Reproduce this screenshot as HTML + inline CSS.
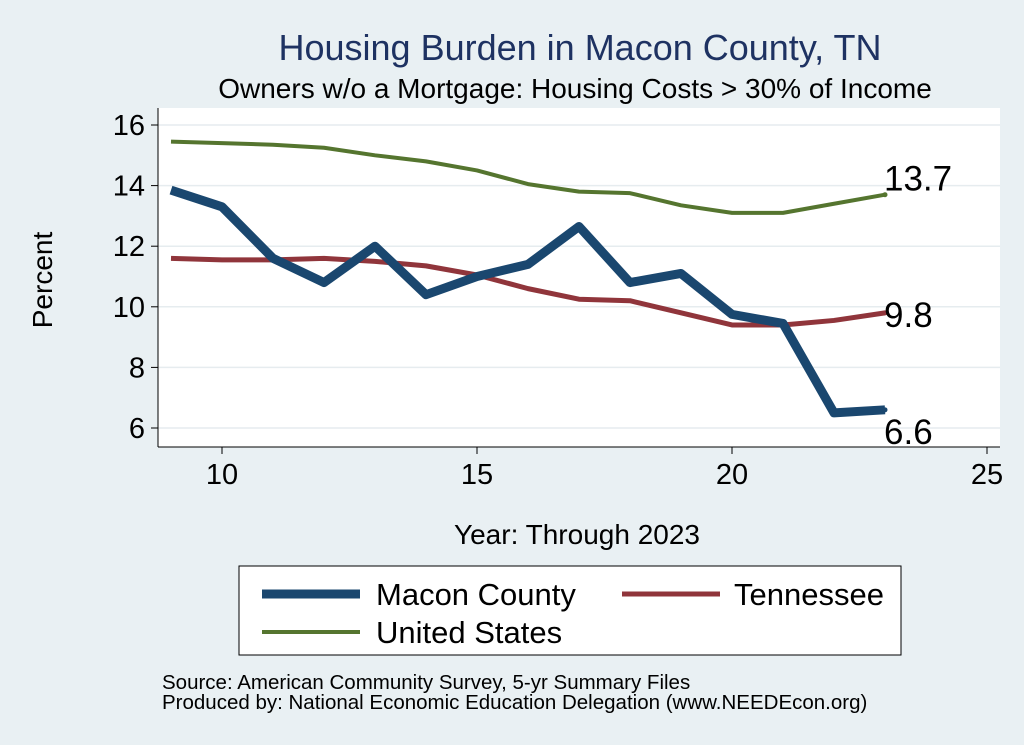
<!DOCTYPE html>
<html><head><meta charset="utf-8"><style>
body{margin:0;background:#e9f0f3;}
svg{display:block;font-family:"Liberation Sans",sans-serif;}
</style></head><body>
<svg id="chart" width="1024" height="745" viewBox="0 0 1024 745">
<rect width="1024" height="745" fill="#e9f0f3"/>
<text x="580" y="60" text-anchor="middle" font-size="36" fill="#1e3262">Housing Burden in Macon County, TN</text>
<text x="575" y="98" text-anchor="middle" font-size="28" fill="#000">Owners w/o a Mortgage: Housing Costs &gt; 30% of Income</text>
<rect x="158" y="108" width="842" height="339" fill="#fff"/>
<g id="grid"></g>
<g id="axes"></g>
<g id="series"></g>
<text x="52" y="280" transform="rotate(-90 52 280)" text-anchor="middle" font-size="28">Percent</text>
<text x="577" y="544" text-anchor="middle" font-size="28">Year: Through 2023</text>
<g>
<rect x="239" y="566" width="662" height="89" fill="#fff" stroke="#000" stroke-width="1"/>
<line x1="262" y1="594" x2="360" y2="594" stroke="#1a476f" stroke-width="9"/>
<text x="376" y="605" font-size="31">Macon County</text>
<line x1="622" y1="594" x2="720" y2="594" stroke="#90353b" stroke-width="5"/>
<text x="734" y="605" font-size="31">Tennessee</text>
<line x1="262" y1="632" x2="360" y2="632" stroke="#55752f" stroke-width="4"/>
<text x="376" y="643" font-size="31">United States</text>
</g>
<text x="162" y="689" font-size="20.5">Source: American Community Survey, 5-yr Summary Files</text>
<text x="162" y="709" font-size="20.5">Produced by: National Economic Education Delegation (www.NEEDEcon.org)</text>
</svg>
<script>
const years=[9,10,11,12,13,14,15,16,17,18,19,20,21,22,23];
const macon=[13.85,13.3,11.6,10.8,12.0,10.4,11.0,11.4,12.65,10.8,11.1,9.75,9.45,6.5,6.6];
const tennessee=[11.6,11.55,11.55,11.6,11.5,11.35,11.05,10.6,10.25,10.2,9.8,9.4,9.4,9.55,9.8];
const us=[15.45,15.4,15.35,15.25,15.0,14.8,14.5,14.05,13.8,13.75,13.35,13.1,13.1,13.4,13.7];
const xTicks=[10,15,20,25];
const yTicks=[6,8,10,12,14,16];
const NS="http://www.w3.org/2000/svg";
const xs=v=>222+(v-10)*51;
const ys=v=>428-(v-6)*30.3;
function mk(t,a,p){const e=document.createElementNS(NS,t);for(const k in a)e.setAttribute(k,a[k]);p.appendChild(e);return e;}
const grid=document.getElementById('grid'),axes=document.getElementById('axes'),ser=document.getElementById('series');
yTicks.forEach(v=>{
 const g=mk('line',{x1:158,x2:1000,y1:ys(v),y2:ys(v),stroke:'#e6ecef','stroke-width':1.5},grid);
 
 
 mk('line',{x1:151,x2:158,y1:ys(v),y2:ys(v),stroke:'#000'},axes);
 const t=mk('text',{x:145,y:ys(v)+10,'text-anchor':'end','font-size':29},axes);t.textContent=v;
 
 
});
xTicks.forEach(v=>{
 mk('line',{x1:xs(v),x2:xs(v),y1:447,y2:454,stroke:'#000'},axes);
 const t=mk('text',{x:xs(v),y:484,'text-anchor':'middle','font-size':29},axes);t.textContent=v;
 
 
});
mk('line',{x1:158,x2:158,y1:108,y2:447,stroke:'#000'},axes);
mk('line',{x1:158,x2:1000,y1:447,y2:447,stroke:'#000'},axes);
function line(vals,col,w,name,lblDy){
 const p=mk('polyline',{points:years.map((y,i)=>xs(y)+','+ys(vals[i])).join(' '),fill:'none',stroke:col,'stroke-width':w,'stroke-linejoin':'round'},ser);
 
 
 const li=vals.length-1;
 mk('circle',{cx:xs(years[li]),cy:ys(vals[li]),r:2.5,fill:col},ser);
 const t=mk('text',{x:xs(years[li])-1,y:ys(vals[li])+lblDy,'font-size':35},ser);
 t.textContent=vals[li].toFixed(1);
 
 
}
line(us,'#55752f',4,'us-line',-4);
line(tennessee,'#90353b',5,'tennessee-line',14);
line(macon,'#1a476f',9,'macon-line',34);
</script>
</body></html>
